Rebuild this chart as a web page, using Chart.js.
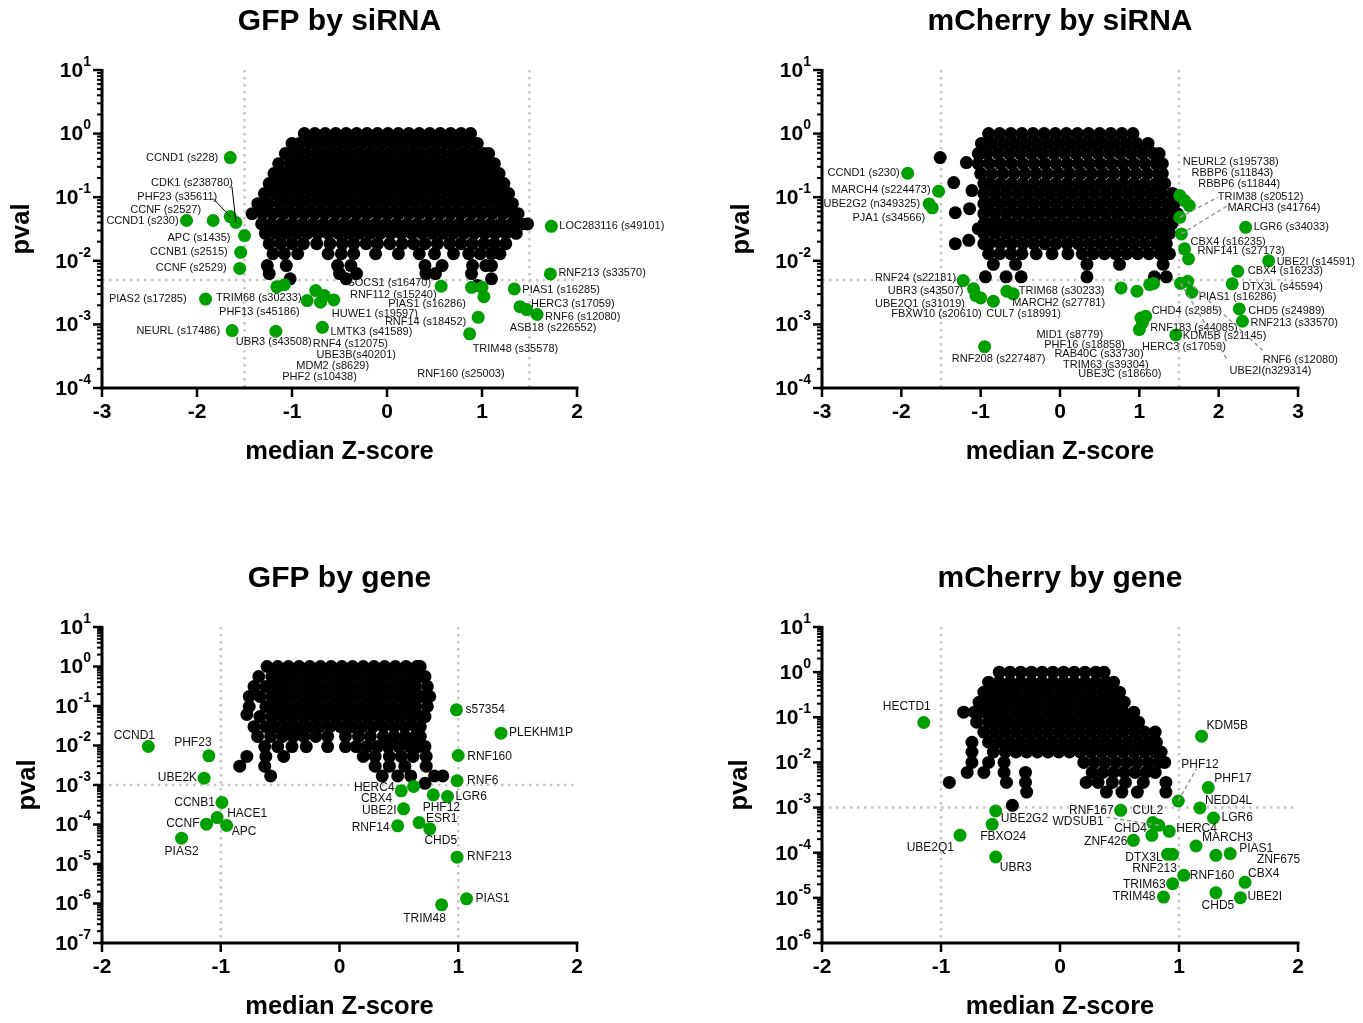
<!DOCTYPE html>
<html>
<head>
<meta charset="utf-8">
<script src="https://cdn.jsdelivr.net/npm/chart.js@4.4.1/dist/chart.umd.min.js"></script>
<style>
  html, body { margin: 0; padding: 0; background: #fff; }
  #wrap { position: relative; width: 1363px; height: 1023px; }
  #wrap canvas { position: absolute; }
</style>
</head>
<body>
<div id="wrap">
  <canvas id="gfpSirna" width="682" height="512" style="left:0;top:0"></canvas>
  <canvas id="mchSirna" width="681" height="512" style="left:682px;top:0"></canvas>
  <canvas id="gfpGene" width="682" height="511" style="left:0;top:512px"></canvas>
  <canvas id="mchGene" width="681" height="511" style="left:682px;top:512px"></canvas>
</div>
<script>
// ---- GFP by siRNA ----
// black cloud: rows of [pval, [median z ...]]
const gfpSirnaCloud = [
  [1, [-0.87,-0.76,-0.65,-0.54,-0.43,-0.32,-0.21,-0.1,0.01,0.12,0.23,0.34,0.45,0.56,0.67,0.78,0.88]],
  [0.7, [-1.0,-0.92,-0.81,-0.7,-0.59,-0.48,-0.37,-0.26,-0.15,-0.04,0.07,0.18,0.29,0.4,0.51,0.62,0.73,0.84,0.95]],
  [0.485, [-1.07,-0.96,-0.85,-0.74,-0.63,-0.52,-0.41,-0.3,-0.19,-0.08,0.03,0.14,0.25,0.36,0.47,0.58,0.69,0.8,0.91,1.02,1.07]],
  [0.337, [-1.14,-1.02,-0.91,-0.8,-0.69,-0.58,-0.47,-0.36,-0.25,-0.14,-0.03,0.08,0.19,0.3,0.41,0.52,0.63,0.74,0.85,0.96,1.07,1.13]],
  [0.235, [-1.19,-1.08,-0.97,-0.86,-0.75,-0.64,-0.53,-0.42,-0.31,-0.2,-0.09,0.02,0.13,0.24,0.35,0.46,0.57,0.68,0.79,0.9,1.01,1.12,1.18]],
  [0.164, [-1.24,-1.13,-1.02,-0.91,-0.8,-0.69,-0.58,-0.47,-0.36,-0.25,-0.14,-0.03,0.08,0.19,0.3,0.41,0.52,0.63,0.74,0.85,0.96,1.07,1.18,1.23]],
  [0.114, [-1.29,-1.18,-1.07,-0.96,-0.85,-0.74,-0.63,-0.52,-0.41,-0.3,-0.19,-0.08,0.03,0.14,0.25,0.36,0.47,0.58,0.69,0.8,0.91,1.02,1.13,1.24,1.28]],
  [0.079, [-1.36,-1.25,-1.13,-1.02,-0.91,-0.8,-0.69,-0.58,-0.47,-0.36,-0.25,-0.14,-0.03,0.08,0.19,0.3,0.41,0.52,0.63,0.74,0.85,0.96,1.07,1.18,1.28,1.32]],
  [0.055, [-1.42,-1.31,-1.2,-1.09,-0.98,-0.87,-0.76,-0.65,-0.54,-0.43,-0.32,-0.21,-0.1,0.01,0.12,0.23,0.34,0.45,0.56,0.67,0.78,0.89,1.0,1.11,1.22,1.33,1.38]],
  [0.038, [-1.32,-1.22,-1.11,-1.0,-0.89,-0.78,-0.67,-0.56,-0.45,-0.34,-0.23,-0.12,-0.01,0.1,0.21,0.32,0.43,0.54,0.65,0.76,0.87,0.98,1.09,1.2,1.31,1.42,1.48]],
  [0.027, [-1.28,-1.17,-1.06,-0.95,-0.84,-0.73,-0.62,-0.51,-0.4,-0.29,-0.18,-0.07,0.04,0.15,0.26,0.37,0.48,0.59,0.7,0.81,0.92,1.03,1.14,1.25,1.36]],
  [0.0186, [-1.24,-1.12,-1.0,-0.88,-0.74,-0.6,-0.47,-0.35,-0.22,-0.1,0.03,0.16,0.28,0.4,0.53,0.66,0.78,0.9,1.02,1.13,1.25]],
  [0.0129, [-1.2,-1.08,-0.94,-0.62,-0.48,-0.35,-0.12,0.12,0.34,0.5,0.7,0.86,0.98,1.1,1.19]],
  [0.0084, [-1.26,-1.06,-0.52,-0.38,0.4,0.58,0.9,1.04,1.1]],
  [0.0063, [-1.24,-0.5,-0.32,0.41,0.51,0.89]],
  [0.0052, [-1.02,-0.43,1.1]],
  [0.0041, [0.95]]
];
const gfpSirnaNames = ['CCND1 (s228)','CDK1 (s238780)','PHF23 (s35611)','CCNF (s2527)','CCND1 (s230)','APC (s1435)',
  'CCNB1 (s2515)','CCNF (s2529)','PIAS2 (s17285)','NEURL (s17486)','UBR3 (s43508)','TRIM68 (s30233)','PHF13 (s45186)',
  'PHF2 (s10438)','RNF4 (s12075)','UBE3B(s40201)','MDM2 (s8629)','HUWE1 (s19597)','LMTK3 (s41589)','SOCS1 (s16470)',
  'RNF112 (s15240)','PIAS1 (s16286)','RNF14 (s18452)','RNF160 (s25003)','TRIM48 (s35578)','PIAS1 (s16285)',
  'HERC3 (s17059)','ASB18 (s226552)','RNF6 (s12080)','RNF213 (s33570)','LOC283116 (s49101)'];
const gfpSirnaZ = [-1.65,-1.59,-1.65,-1.83,-2.11,-1.50,-1.54,-1.55,-1.91,-1.63,-1.17,-1.16,-1.08,
  -0.84,-0.75,-0.70,-0.66,-0.56,-0.68,0.57,0.89,1.0,0.96,1.02,0.87,1.34,1.40,1.47,1.58,1.72,1.73];
const gfpSirnaP = [0.42,0.040,0.0495,0.043,0.043,0.0249,0.0136,0.0076,0.0025,0.0008,0.00078,0.0039,0.0042,
  0.00237,0.0034,0.00223,0.00284,0.00243,0.0009,0.00398,0.00383,0.00383,0.00129,0.00273,0.00071,0.00361,
  0.0019,0.00171,0.00143,0.00622,0.0348];

// ---- mCherry by siRNA ----
const mchSirnaCloud = [
  [1, [-0.9,-0.76,-0.62,-0.48,-0.34,-0.2,-0.06,0.08,0.22,0.36,0.5,0.64,0.78,0.92]],
  [0.7, [-0.99,-0.85,-0.71,-0.57,-0.43,-0.29,-0.15,-0.01,0.13,0.27,0.41,0.55,0.69,0.83,0.97,1.11]],
  [0.485, [-1.03,-0.92,-0.78,-0.64,-0.5,-0.36,-0.22,-0.08,0.06,0.2,0.34,0.48,0.62,0.76,0.9,1.04,1.18,1.25]],
  [0.42, [-1.51]],
  [0.35, [-1.18]],
  [0.337, [-1.03,-0.89,-0.75,-0.61,-0.47,-0.33,-0.19,-0.05,0.09,0.23,0.37,0.51,0.65,0.79,0.93,1.07,1.21,1.29]],
  [0.235, [-1.0,-0.86,-0.72,-0.58,-0.44,-0.3,-0.16,-0.02,0.12,0.26,0.4,0.54,0.68,0.82,0.96,1.1,1.24,1.29]],
  [0.17, [-1.34]],
  [0.164, [-0.96,-0.89,-0.75,-0.61,-0.47,-0.33,-0.19,-0.05,0.09,0.23,0.37,0.51,0.65,0.79,0.93,1.07,1.21,1.32]],
  [0.127, [-1.11]],
  [0.114, [-0.96,-0.82,-0.68,-0.54,-0.4,-0.26,-0.12,0.02,0.16,0.3,0.44,0.58,0.72,0.86,1.0,1.14,1.28,1.42]],
  [0.079, [-0.96,-0.89,-0.75,-0.61,-0.47,-0.33,-0.19,-0.05,0.09,0.23,0.37,0.51,0.65,0.79,0.93,1.07,1.21,1.35,1.44]],
  [0.066, [-1.14]],
  [0.057, [-1.32]],
  [0.055, [-0.96,-0.82,-0.68,-0.54,-0.4,-0.26,-0.12,0.02,0.16,0.3,0.44,0.58,0.72,0.86,1.0,1.14,1.28,1.42,1.48]],
  [0.038, [-0.96,-0.89,-0.75,-0.61,-0.47,-0.33,-0.19,-0.05,0.09,0.23,0.37,0.51,0.65,0.79,0.93,1.07,1.21,1.35,1.41]],
  [0.032, [-1.03]],
  [0.027, [-0.96,-0.82,-0.68,-0.54,-0.4,-0.26,-0.12,0.02,0.16,0.3,0.44,0.58,0.72,0.86,1.0,1.14,1.28,1.38]],
  [0.021, [-1.15]],
  [0.0186, [-1.32,-0.96,-0.89,-0.75,-0.61,-0.47,-0.33,-0.19,-0.05,0.09,0.23,0.37,0.51,0.65,0.79,0.93,1.07,1.21,1.34]],
  [0.0129, [-0.9,-0.76,-0.62,-0.48,-0.3,-0.1,0.1,0.28,0.42,0.56,0.7,0.84,0.98,1.12,1.26,1.38]],
  [0.0088, [-0.84,-0.56,0.34,0.75,1.3]],
  [0.0056, [-0.94,-0.68,-0.49,0.34,1.19,1.34]]
];
const mchSirnaNames = ['CCND1 (s230)','MARCH4 (s224473)','UBE2G2 (n349325)','PJA1 (s34566)','RNF24 (s22181)',
  'UBR3 (s43507)','UBE2Q1 (s31019)','FBXW10 (s20610)','CUL7 (s18991)','TRIM68 (s30233)','MARCH2 (s27781)',
  'RNF208 (s227487)','MID1 (s8779)','PHF16 (s18858)','RAB40C (s33730)','TRIM63 (s39304)','UBE3C (s18660)',
  'CHD4 (s2985)','HERC3 (s17059)','RNF183 (s44085)','KDM5B (s21145)','PIAS1 (s16286)','RNF6 (s12080)',
  'UBE2I(n329314)','DTX3L (s45594)','CHD5 (s24989)','RNF213 (s33570)','CBX4 (s16233)','UBE2I (s14591)',
  'RNF141 (s27173)','CBX4 (s16235)','LGR6 (s34033)','MARCH3 (s41764)','TRIM38 (s20512)','RBBP6 (s11844)',
  'RBBP6 (s11843)','NEURL2 (s195738)'];
const mchSirnaZ = [-1.92,-1.53,-1.65,-1.61,-1.22,-1.09,-1.06,-1.0,-0.84,-0.67,-0.59,-0.95,0.77,0.97,1.13,1.18,1.04,
  1.08,1.02,1.0,1.46,1.66,1.61,1.52,2.17,2.26,2.30,2.24,2.63,1.62,1.57,2.34,1.53,1.51,1.63,1.57,1.51];
const mchSirnaP = [0.238,0.124,0.0785,0.068,0.00489,0.00362,0.00284,0.00261,0.00231,0.00332,0.00302,0.000447,
  0.00375,0.00332,0.00423,0.0044,0.00107,0.00134,0.00126,0.00083,0.000684,0.0032,0.00476,0.00443,0.00434,
  0.00175,0.00112,0.00684,0.01,0.0107,0.0154,0.0336,0.0265,0.0483,0.0738,0.0885,0.106];

// ---- GFP by gene ----
const gfpGeneCloud = [
  [1, [-0.61,-0.52,-0.43,-0.34,-0.25,-0.16,-0.07,0.02,0.11,0.2,0.29,0.38,0.47,0.56,0.65,0.68]],
  [0.558, [-0.68,-0.57,-0.48,-0.39,-0.3,-0.21,-0.12,-0.03,0.06,0.15,0.24,0.33,0.42,0.51,0.6,0.69,0.72]],
  [0.312, [-0.72,-0.62,-0.53,-0.44,-0.35,-0.26,-0.17,-0.08,0.01,0.1,0.19,0.28,0.37,0.46,0.55,0.64,0.74]],
  [0.174, [-0.76,-0.67,-0.57,-0.48,-0.39,-0.3,-0.21,-0.12,-0.03,0.06,0.15,0.24,0.33,0.42,0.51,0.6,0.69,0.76]],
  [0.097, [-0.76,-0.62,-0.53,-0.44,-0.35,-0.26,-0.17,-0.08,0.01,0.1,0.19,0.28,0.37,0.46,0.55,0.64,0.74]],
  [0.061, [-0.78]],
  [0.054, [-0.67,-0.57,-0.48,-0.39,-0.3,-0.21,-0.12,-0.03,0.06,0.15,0.24,0.33,0.42,0.51,0.6,0.69,0.72]],
  [0.030, [-0.72,-0.62,-0.53,-0.44,-0.35,-0.26,-0.17,-0.08,0.01,0.1,0.19,0.28,0.37,0.46,0.55,0.64,0.68]],
  [0.017, [-0.69,-0.58,-0.48,-0.39,-0.3,-0.2,-0.1,0.05,0.16,0.26,0.37,0.46,0.55,0.64,0.68]],
  [0.0094, [-0.63,-0.52,-0.4,-0.28,-0.1,0.05,0.14,0.23,0.32,0.41,0.5,0.59,0.66,0.72]],
  [0.0053, [-0.78,-0.62,-0.47,0.2,0.3,0.42,0.52,0.62,0.73]],
  [0.003, [-0.84,-0.63,0.3,0.42,0.55,0.73]],
  [0.0017, [-0.58,0.36,0.49,0.6,0.8,0.87]],
  [0.0011, [0.72]]
];
const gfpGeneNames = ['CCND1','PHF23','UBE2K','CCNB1','HACE1','APC','CCNF','PIAS2','s57354','PLEKHM1P','RNF160',
  'RNF6','HERC4','CBX4','UBE2I','RNF14','PHF12','LGR6','ESR1','CHD5','RNF213','PIAS1','TRIM48'];
const gfpGeneZ = [-1.61,-1.10,-1.14,-0.99,-1.03,-0.95,-1.12,-1.33,0.985,1.36,1.0,0.99,0.624,0.52,0.54,0.49,
  0.79,0.91,0.67,0.76,0.99,1.07,0.86];
const gfpGeneP = [0.00944,0.00548,0.00149,0.00036,0.000150,0.0000944,0.000102,0.000045,0.08,0.0205,0.00558,
  0.00128,0.000916,0.000713,0.00025,0.0000925,0.000565,0.000512,0.000112,0.0000778,0.0000149,0.00000131,
  0.000000927];

// ---- mCherry by gene ----
const mchGeneCloud = [
  [1, [-0.51,-0.42,-0.33,-0.24,-0.15,-0.06,0.03,0.12,0.21,0.3,0.37]],
  [0.6, [-0.6,-0.51,-0.42,-0.33,-0.24,-0.15,-0.06,0.03,0.12,0.21,0.3,0.39,0.45]],
  [0.36, [-0.64,-0.55,-0.46,-0.37,-0.28,-0.19,-0.1,-0.01,0.08,0.17,0.26,0.35,0.44,0.5]],
  [0.216, [-0.68,-0.6,-0.51,-0.42,-0.33,-0.24,-0.15,-0.06,0.03,0.12,0.21,0.3,0.39,0.48,0.54]],
  [0.13, [-0.81,-0.72,-0.64,-0.55,-0.46,-0.37,-0.28,-0.19,-0.1,-0.01,0.08,0.17,0.26,0.35,0.44,0.53,0.62]],
  [0.078, [-0.7,-0.6,-0.51,-0.42,-0.33,-0.24,-0.15,-0.06,0.03,0.12,0.21,0.3,0.39,0.48,0.57,0.66]],
  [0.047, [-0.64,-0.55,-0.46,-0.37,-0.28,-0.19,-0.1,-0.01,0.08,0.17,0.26,0.35,0.44,0.53,0.62,0.71,0.8]],
  [0.028, [-0.74,-0.6,-0.51,-0.42,-0.33,-0.24,-0.15,-0.06,0.03,0.12,0.21,0.3,0.39,0.48,0.57,0.66,0.75,0.81]],
  [0.017, [-0.74,-0.56,-0.46,-0.37,-0.28,-0.19,-0.1,-0.01,0.08,0.17,0.26,0.35,0.44,0.53,0.62,0.71,0.8,0.85]],
  [0.01, [-0.74,-0.6,-0.47,0.2,0.29,0.38,0.47,0.56,0.65,0.74,0.83,0.88]],
  [0.006, [-0.78,-0.64,-0.47,-0.29,0.27,0.36,0.45,0.54,0.63,0.72,0.8]],
  [0.0036, [-0.93,-0.45,-0.29,0.22,0.32,0.44,0.55,0.7,0.89]],
  [0.0022, [-0.28,0.39,0.52,0.65,0.89]],
  [0.00112, [-0.4]]
];
const mchGeneNames = ['HECTD1','UBE2G2','FBXO24','UBE2Q1','UBR3','KDM5B','PHF12','PHF17','NEDD4L','LGR6','RNF167',
  'CUL2','WDSUB1','CHD4','HERC4','ZNF426','MARCH3','DTX3L','RNF213','PIAS1','ZNF675','RNF160','TRIM63','TRIM48',
  'CHD5','CBX4','UBE2I'];
const mchGeneZ = [-1.145,-0.54,-0.57,-0.84,-0.54,1.19,0.994,1.246,1.176,1.29,0.51,0.78,0.83,0.772,0.918,0.617,
  1.143,0.904,0.946,1.43,1.31,1.04,0.946,0.87,1.31,1.555,1.516];
const mchGeneP = [0.0766,0.00084,0.000426,0.000243,0.0000803,0.0381,0.0014,0.00277,0.00098,0.000588,0.00087,
  0.000465,0.000405,0.000243,0.000298,0.000188,0.000141,0.0000922,0.0000922,0.0000955,0.0000875,0.0000316,
  0.0000206,0.0000104,0.000013,0.0000221,0.0000101];

// label placement, px from the dot: [dx, dy, align, leaderX, leaderY]
const gfpSirnaLabelAt = [[-12,0,'right'],[-3,-40,'right',-4,-36],[-13,-20,'right',-17,-18],[-12,-11,'right'],
  [-8,0,'right'],[-14,2,'right'],[-13,0,'right'],[-13,0,'right'],[-19,0,'right'],[-12,0,'right'],[-40,11,'left'],
  [-18,11,'center'],[-25,27,'center'],[-25,76,'left'],[-3,53,'left'],[-4,53,'left'],[-28,70,'left'],[-2,14,'left'],
  [8,5,'left'],[-10,-3,'right'],[-35,8,'right'],[-16,17,'right'],[-12,5,'right'],[-23,77,'center'],[3,15,'left'],
  [8,1,'left'],[11,-3,'left'],[-17,18,'left'],[8,2,'left'],[8,-1,'left'],[8,0,'left']];
const mchSirnaLabelAt = [[-8,0,'right'],[-8,-1,'right'],[-9,0,'right'],[-7,10,'right'],[-7,-3,'right'],
  [-10,2,'right'],[-11,8,'right'],[1,16,'right'],[-7,13,'left'],[12,0,'left'],[-1,9,'left'],[14,12,'center'],
  [-18,47,'right'],[-12,54,'right'],[-6,69,'right'],[-5,81,'right'],[19,51,'right'],[6,-5,'left'],[43,29,'center'],
  [11,-2,'left'],[7,1,'left'],[7,5,'left'],[75,79,'left',75,69],[49,88,'left',47,77],[10,3,'left'],[9,2,'left'],
  [8,2,'left'],[10,0,'left'],[8,1,'left'],[9,-8,'left'],[6,-7,'left'],[8,0,'left'],[46,-26,'left',46,-28],
  [38,-20,'left',38,-20],[9,-22,'left'],[7,-28,'left'],[3,-34,'left']];
const gfpGeneLabelAt = [[-14,-11,'center'],[-16,-13,'center'],[-7,0,'right'],[-7,0,'right'],[10,-4,'left'],
  [5,6,'left'],[-7,0,'right'],[0,13,'center'],[9,0,'left'],[8,0,'left'],[9,1,'left'],[10,0,'left'],[-19,1,'right'],
  [-9,8,'right'],[-7,2,'right'],[-8,2,'right'],[8,13,'center'],[8,0,'left'],[7,-4,'left'],[11,12,'center'],
  [10,0,'left'],[9,0,'left'],[-17,14,'center']];
const mchGeneLabelAt = [[-17,-16,'center'],[5,8,'left'],[11,12,'center'],[-6,12,'right'],[4,11,'left'],
  [5,-11,'left'],[3,-36,'left',18,-32],[6,-9,'left'],[5,-7,'left'],[8,0,'left'],[-7,0,'right'],[-5,-12,'center'],
  [-55,-4,'right',-52,-8],[-5,-7,'right'],[7,-3,'left'],[-6,1,'right'],[6,-8,'left'],[-5,3,'right'],
  [-18,14,'center'],[9,-5,'left'],[41,4,'left'],[6,0,'left'],[-7,1,'right'],[-8,0,'right'],[2,13,'center'],
  [3,-9,'left'],[7,-1,'left']];

const FONT = '"Liberation Sans", Arial, Helvetica, sans-serif';
const GREEN = '#00a000';

// draws the Prism-like axes, threshold lines and the hit labels
const prismLook = {
  id: 'prismLook',
  beforeDatasetsDraw(chart, args, o) {
    const { ctx, chartArea: a, scales: { x, y } } = chart;
    ctx.save();
    ctx.strokeStyle = '#c6c6c6';
    ctx.lineWidth = 2.5;
    ctx.setLineDash([2.5, 4.5]);
    o.vLines.forEach(v => {
      const px = x.getPixelForValue(v);
      ctx.beginPath(); ctx.moveTo(px, a.top); ctx.lineTo(px, a.bottom); ctx.stroke();
    });
    const py = y.getPixelForValue(o.hLine);
    ctx.beginPath(); ctx.moveTo(a.left, py); ctx.lineTo(a.right, py); ctx.stroke();
    ctx.restore();
  },
  afterDatasetsDraw(chart, args, o) {
    const { ctx } = chart;
    const meta = chart.getDatasetMeta(0);
    ctx.save();
    ctx.font = o.labelSize + 'px ' + FONT;
    ctx.fillStyle = '#111';
    ctx.textBaseline = 'middle';
    meta.data.forEach((pt, i) => {
      const at = o.labelAt[i];
      if (at.length > 3) {
        ctx.save();
        if (o.leader === 'solid') { ctx.strokeStyle = '#000'; ctx.lineWidth = 1; }
        else { ctx.strokeStyle = '#9a9a9a'; ctx.lineWidth = 1.5; ctx.setLineDash([4, 3]); }
        ctx.beginPath();
        ctx.moveTo(pt.x, pt.y);
        ctx.lineTo(pt.x + at[3], pt.y + at[4]);
        ctx.stroke();
        ctx.restore();
      }
      ctx.textAlign = at[2];
      ctx.fillText(o.names[i], pt.x + at[0], pt.y + at[1]);
    });
    ctx.restore();
  },
  afterDraw(chart, args, o) {
    const { ctx, chartArea: a, scales: { x, y } } = chart;
    ctx.save();
    ctx.strokeStyle = '#000';
    ctx.fillStyle = '#000';
    ctx.lineWidth = 3;
    ctx.beginPath(); ctx.moveTo(a.left, a.top - 1); ctx.lineTo(a.left, a.bottom + 1.5); ctx.stroke();
    ctx.beginPath(); ctx.moveTo(a.left - 1.5, a.bottom); ctx.lineTo(a.right + 1.5, a.bottom); ctx.stroke();

    // y: decades with minor ticks
    for (let e = o.yMinExp; e <= o.yMaxExp; e++) {
      const py = y.getPixelForValue(Math.pow(10, e));
      ctx.lineWidth = 2.5;
      ctx.beginPath(); ctx.moveTo(a.left, py); ctx.lineTo(a.left - 9, py); ctx.stroke();
      if (e < o.yMaxExp) {
        ctx.lineWidth = 2;
        for (let m = 2; m <= 9; m++) {
          const pm = y.getPixelForValue(m * Math.pow(10, e));
          ctx.beginPath(); ctx.moveTo(a.left, pm); ctx.lineTo(a.left - 5, pm); ctx.stroke();
        }
      }
      const sup = String(e);
      ctx.font = 'bold 14px ' + FONT;
      const sw = ctx.measureText(sup).width;
      const right = a.left - 11;
      ctx.textBaseline = 'middle';
      ctx.textAlign = 'left';
      ctx.fillText(sup, right - sw, py - 8);
      ctx.font = 'bold 21px ' + FONT;
      ctx.textAlign = 'right';
      ctx.fillText('10', right - sw, py + 1);
    }

    // x ticks
    ctx.lineWidth = 2.5;
    ctx.font = 'bold 21px ' + FONT;
    ctx.textAlign = 'center';
    ctx.textBaseline = 'top';
    o.xTicks.forEach(t => {
      const px = x.getPixelForValue(t);
      ctx.beginPath(); ctx.moveTo(px, a.bottom); ctx.lineTo(px, a.bottom + 9); ctx.stroke();
      ctx.fillText(String(t), px, a.bottom + 14);
    });

    // titles
    const cx = (a.left + a.right) / 2;
    ctx.textBaseline = 'middle';
    ctx.font = 'bold 25.5px ' + FONT;
    ctx.fillText('median Z-score', cx, a.bottom + 64);
    ctx.save();
    ctx.translate(a.left - o.yTitleGap, (a.top + a.bottom) / 2);
    ctx.rotate(-Math.PI / 2);
    ctx.fillText('pval', 0, 0);
    ctx.restore();
    ctx.font = 'bold 30px ' + FONT;
    ctx.fillText(o.title, cx, a.top - 48);
    ctx.restore();
  }
};

function cloudPoints(rows) {
  const pts = [];
  rows.forEach(([p, zs]) => zs.forEach(z => pts.push({ x: z, y: p })));
  return pts;
}

function makePanel(id, cfg) {
  const hits = cfg.z.map((z, i) => ({ x: z, y: cfg.p[i] }));
  new Chart(document.getElementById(id), {
    type: 'scatter',
    data: {
      datasets: [
        { label: 'hits', data: hits, backgroundColor: GREEN, pointRadius: 6.5, pointBorderWidth: 0, order: 0, clip: false },
        { label: 'all', data: cloudPoints(cfg.cloud), backgroundColor: '#000', pointRadius: 6.5, pointBorderWidth: 0, order: 1, clip: false }
      ]
    },
    options: {
      responsive: false,
      animation: false,
      events: [],
      layout: { padding: cfg.pad },
      scales: {
        x: { type: 'linear', min: cfg.xMin, max: cfg.xMax, display: false },
        y: { type: 'logarithmic', min: Math.pow(10, cfg.yMinExp), max: Math.pow(10, cfg.yMaxExp), display: false }
      },
      plugins: {
        legend: { display: false },
        tooltip: { enabled: false },
        prismLook: {
          title: cfg.title, xTicks: cfg.xTicks, yMinExp: cfg.yMinExp, yMaxExp: cfg.yMaxExp,
          vLines: cfg.vLines, hLine: cfg.hLine, names: cfg.names, labelAt: cfg.labelAt,
          labelSize: cfg.labelSize, leader: cfg.leader, yTitleGap: cfg.yTitleGap
        }
      }
    },
    plugins: [prismLook]
  });
}

makePanel('gfpSirna', {
  title: 'GFP by siRNA', cloud: gfpSirnaCloud, names: gfpSirnaNames, z: gfpSirnaZ, p: gfpSirnaP, labelAt: gfpSirnaLabelAt,
  xMin: -3, xMax: 2, xTicks: [-3, -2, -1, 0, 1, 2], yMinExp: -4, yMaxExp: 1, vLines: [-1.5, 1.5], hLine: 0.005,
  pad: { left: 102, top: 70, right: 105, bottom: 124 }, labelSize: 11, leader: 'solid', yTitleGap: 80
});
makePanel('mchSirna', {
  title: 'mCherry by siRNA', cloud: mchSirnaCloud, names: mchSirnaNames, z: mchSirnaZ, p: mchSirnaP, labelAt: mchSirnaLabelAt,
  xMin: -3, xMax: 3, xTicks: [-3, -2, -1, 0, 1, 2, 3], yMinExp: -4, yMaxExp: 1, vLines: [-1.5, 1.5], hLine: 0.005,
  pad: { left: 140, top: 70, right: 65, bottom: 124 }, labelSize: 11, leader: 'dashed', yTitleGap: 80
});
makePanel('gfpGene', {
  title: 'GFP by gene', cloud: gfpGeneCloud, names: gfpGeneNames, z: gfpGeneZ, p: gfpGeneP, labelAt: gfpGeneLabelAt,
  xMin: -2, xMax: 2, xTicks: [-2, -1, 0, 1, 2], yMinExp: -7, yMaxExp: 1, vLines: [-1, 1], hLine: 0.001,
  pad: { left: 102, top: 115, right: 105, bottom: 80 }, labelSize: 12, leader: 'dashed', yTitleGap: 74
});
makePanel('mchGene', {
  title: 'mCherry by gene', cloud: mchGeneCloud, names: mchGeneNames, z: mchGeneZ, p: mchGeneP, labelAt: mchGeneLabelAt,
  xMin: -2, xMax: 2, xTicks: [-2, -1, 0, 1, 2], yMinExp: -6, yMaxExp: 1, vLines: [-1, 1], hLine: 0.001,
  pad: { left: 140, top: 115, right: 65, bottom: 80 }, labelSize: 12, leader: 'dashed', yTitleGap: 82
});
</script>
</body>
</html>
